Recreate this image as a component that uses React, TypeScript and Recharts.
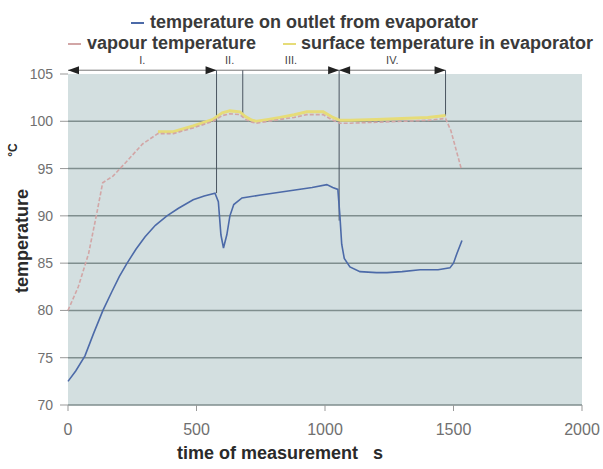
import React from "react";
import {
  LineChart,
  Line,
  XAxis,
  YAxis,
  CartesianGrid,
  Legend,
  ReferenceLine,
  Label,
} from "recharts";

// outlet temperature (blue)
const outletTime = [
  0, 30, 66, 100, 136, 171, 200, 230, 265, 300, 340, 385, 430, 487, 530, 572,
  585, 595, 605, 618, 630, 645, 677, 750, 850, 950, 1007, 1030, 1050, 1058,
  1065, 1075, 1097, 1136, 1200, 1241, 1300, 1370, 1440, 1486, 1500, 1513, 1533,
];
const outletTemp = [
  72.5, 73.6, 75.2, 77.6, 80, 82, 83.6, 85, 86.5, 87.8, 89, 90, 90.8, 91.7, 92.1,
  92.4, 91.5, 88, 86.6, 88, 90, 91.2, 91.9, 92.2, 92.6, 93, 93.3, 93, 92.8, 90,
  87, 85.5, 84.6, 84.1, 84, 84, 84.1, 84.3, 84.3, 84.5, 85, 86, 87.4,
];

// vapour temperature
const vapourTime = [
  0, 40, 80, 110, 135, 175, 230, 290, 350, 410, 487, 564, 600, 630, 669, 690,
  716, 734, 780, 825, 880, 929, 993, 1031, 1058, 1100, 1200, 1300, 1400, 1469,
  1490, 1510, 1530,
];
const vapourTemp = [
  80, 82.5, 86, 90, 93.5, 94.2, 95.8, 97.6, 98.7, 98.7, 99.3, 100, 100.6, 100.8,
  100.7, 100.2, 99.9, 99.8, 100, 100.2, 100.4, 100.7, 100.7, 100.1, 99.8, 99.8,
  99.9, 100, 100.1, 100.3, 99, 97, 95,
];

// surface temperature in evaporator
const surfaceTime = [
  350, 410, 487, 564, 600, 630, 669, 690, 716, 734, 780, 825, 880, 929, 993,
  1031, 1058, 1100, 1200, 1300, 1400, 1469,
];
const surfaceTemp = [
  98.9, 98.9, 99.5, 100.2, 100.9, 101.1, 101, 100.5, 100.1, 100, 100.2, 100.4,
  100.7, 101, 101, 100.4, 100.1, 100.1, 100.2, 100.3, 100.4, 100.6,
];

const xTicks = [0, 500, 1000, 1500, 2000];
const yTicks = [70, 75, 80, 85, 90, 95, 100, 105];
const gridValues = [70, 75, 80, 85, 90, 95, 100];

// measurement phases
const phaseBounds = [0, 578, 680, 1055, 1469];
const phaseLabels = ["I.", "II.", "III.", "IV."];
const phaseLeftHead = [true, false, false, true];
const phaseRightHead = [true, false, true, true];
const dividerEnds = [92.4, 100.8, 89.5, 100.6];
const arrowLevel = 105.4;

const toRows = (ts: number[], vs: number[]) =>
  ts.map((t, i) => ({ t, v: vs[i] }));

const outletData = toRows(outletTime, outletTemp);
const vapourData = toRows(vapourTime, vapourTemp);
const surfaceData = toRows(surfaceTime, surfaceTemp);

const COLORS = {
  outlet: "#4c6aa8",
  vapour: "#d2a6a6",
  surface: "#e6dc78",
};

const FONT = "'Liberation Sans', Arial, sans-serif";

function phaseArrow(idx: number) {
  return (props: any) => {
    const { x1, y1, x2 } = props;
    const head = 11;
    const half = 4;
    return (
      <g>
        <line x1={x1} y1={y1} x2={x2} y2={y1} stroke="#777" strokeWidth={1} />
        {phaseLeftHead[idx] && (
          <polygon
            points={`${x1},${y1} ${x1 + head},${y1 - half} ${x1 + head},${y1 + half}`}
            fill="#222"
          />
        )}
        {phaseRightHead[idx] && (
          <polygon
            points={`${x2},${y1} ${x2 - head},${y1 - half} ${x2 - head},${y1 + half}`}
            fill="#222"
          />
        )}
        <text
          x={(x1 + x2) / 2}
          y={y1 - 6}
          textAnchor="middle"
          fontSize={11}
          fontFamily={FONT}
          fill="#444"
        >
          {phaseLabels[idx]}
        </text>
      </g>
    );
  };
}

const LegendBox = () => {
  const text: React.CSSProperties = {
    position: "absolute",
    fontFamily: FONT,
    fontSize: 18,
    fontWeight: 700,
    color: "#3a3a3a",
    lineHeight: "20px",
    whiteSpace: "nowrap",
  };
  const mark = (color: string): React.CSSProperties => ({
    position: "absolute",
    height: 2,
    width: 13,
    background: color,
  });
  return (
    <div style={{ position: "relative", width: 603, height: 48 }}>
      <div style={{ ...mark(COLORS.outlet), left: 131, top: 22 }} />
      <div style={{ ...text, left: 150, top: 12 }}>
        temperature on outlet from evaporator
      </div>
      <div style={{ ...mark(COLORS.vapour), left: 68, top: 43 }} />
      <div style={{ ...text, left: 87, top: 33 }}>vapour temperature</div>
      <div style={{ ...mark(COLORS.surface), left: 283, top: 43 }} />
      <div style={{ ...text, left: 301, top: 33 }}>
        surface temperature in evaporator
      </div>
    </div>
  );
};

const YTitle = ({ viewBox }: any) => {
  const cx = viewBox.x - 6;
  const cy = viewBox.y + 167;
  return (
    <g fontFamily={FONT} fontWeight={700} fill="#2a2a2a">
      <text
        x={cx}
        y={cy}
        fontSize={18}
        textAnchor="middle"
        dominantBaseline="central"
        transform={`rotate(-90 ${cx} ${cy})`}
      >
        temperature
      </text>
      <text
        x={cx - 9}
        y={cy - 91}
        fontSize={12}
        textAnchor="middle"
        dominantBaseline="central"
        transform={`rotate(-90 ${cx - 9} ${cy - 91})`}
      >
        °C
      </text>
    </g>
  );
};

const XTitle = ({ viewBox }: any) => (
  <text
    x={viewBox.x + 109}
    y={viewBox.y + 54}
    fontFamily={FONT}
    fontWeight={700}
    fontSize={18}
    fill="#2a2a2a"
    style={{ whiteSpace: "pre" }}
  >
    {"time of measurement   s"}
  </text>
);

export default function App() {
  return (
    <div style={{ position: "absolute", left: 0, top: 0, background: "#fff" }}>
      <LineChart
        width={603}
        height={469}
        margin={{ top: 26, right: 21, bottom: 34, left: 28 }}
      >
        <CartesianGrid
          vertical={false}
          horizontalValues={gridValues}
          stroke="#7f8e8e"
          strokeWidth={1.5}
          fill="#d3dfe0"
          fillOpacity={1}
        />
        <XAxis
          dataKey="t"
          type="number"
          domain={[0, 2000]}
          ticks={xTicks}
          allowDuplicatedCategory={false}
          axisLine={false}
          tickLine={{ stroke: "#999" }}
          tickSize={6}
          tickMargin={13}
          tick={{ fill: "#707070", fontSize: 16, fontFamily: FONT }}
          height={30}
        >
          <Label content={<XTitle />} />
        </XAxis>
        <YAxis
          type="number"
          domain={[70, 105]}
          ticks={yTicks}
          width={40}
          axisLine={false}
          tickLine={{ stroke: "#999" }}
          tickSize={8}
          tickMargin={7}
          tick={{ fill: "#707070", fontSize: 14, fontFamily: FONT }}
        >
          <Label content={<YTitle />} />
        </YAxis>
        <Legend
          verticalAlign="top"
          content={<LegendBox />}
          wrapperStyle={{ top: 0, left: 0, width: 603, height: 48 }}
        />
        {phaseLabels.map((_, i) => (
          <ReferenceLine
            key={`arrow-${i}`}
            segment={[
              { x: phaseBounds[i], y: arrowLevel },
              { x: i + 1 < phaseBounds.length ? phaseBounds[i + 1] : phaseBounds[i], y: arrowLevel },
            ]}
            ifOverflow="visible"
            shape={phaseArrow(i)}
          />
        ))}
        {phaseBounds.slice(1).map((b, i) => (
          <ReferenceLine
            key={`div-${i}`}
            segment={[
              { x: b, y: arrowLevel },
              { x: b, y: dividerEnds[i] },
            ]}
            ifOverflow="visible"
            stroke="#4a5560"
            strokeWidth={1}
          />
        ))}
        <Line
          data={outletData}
          dataKey="v"
          name="temperature on outlet from evaporator"
          stroke={COLORS.outlet}
          strokeWidth={1.6}
          dot={false}
          isAnimationActive={false}
        />
        <Line
          data={surfaceData}
          dataKey="v"
          name="surface temperature in evaporator"
          stroke={COLORS.surface}
          strokeWidth={3}
          dot={false}
          isAnimationActive={false}
        />
        <Line
          data={vapourData}
          dataKey="v"
          name="vapour temperature"
          stroke={COLORS.vapour}
          strokeWidth={1.6}
          strokeDasharray="4 2"
          dot={false}
          isAnimationActive={false}
        />
      </LineChart>
    </div>
  );
}
